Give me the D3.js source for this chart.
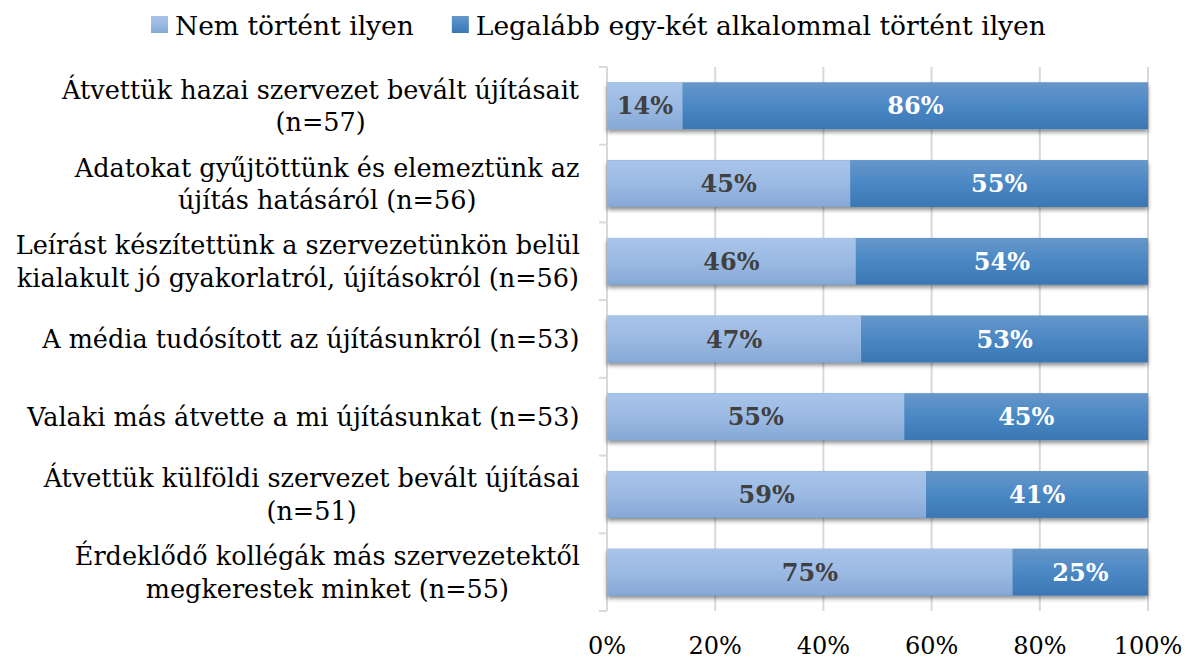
<!DOCTYPE html>
<html>
<head>
<meta charset="utf-8">
<script src="https://cdn.jsdelivr.net/npm/d3@7"></script>
<style>
  body { margin: 0; background: white; }
  svg text { font-family: "DejaVu Serif", "Liberation Serif", serif; }
</style>
</head>
<body>
<svg id="chart"></svg>
<script>
var width = 1193,
    height = 661;

// data
var categories = [
  ["Átvettük hazai szervezet bevált újításait", "(n=57)"],
  ["Adatokat gyűjtöttünk és elemeztünk az", "újítás hatásáról (n=56)"],
  ["Leírást készítettünk a szervezetünkön belül", "kialakult jó gyakorlatról, újításokról (n=56)"],
  ["A média tudósított az újításunkról (n=53)"],
  ["Valaki más átvette a mi újításunkat (n=53)"],
  ["Átvettük külföldi szervezet bevált újításai", "(n=51)"],
  ["Érdeklődő kollégák más szervezetektől", "megkerestek minket (n=55)"]
];
var seriesNames = ["Nem történt ilyen", "Legalább egy-két alkalommal történt ilyen"];
var notHappened = [14, 45, 46, 47, 55, 59, 75];
var happened = [86, 55, 54, 53, 45, 41, 25];
var xTicks = [0, 20, 40, 60, 80, 100];

var margin = {top: 67, left: 607, right: 45, bottom: 50};

var svg = d3.select('#chart').attr('width', width).attr('height', height);

var defs = svg.append('defs');
var gLight = defs.append('linearGradient').attr('id', 'gLight').attr('x1', 0).attr('y1', 0).attr('x2', 0).attr('y2', 1);
gLight.append('stop').attr('offset', '0%').attr('stop-color', '#a8c4e9');
gLight.append('stop').attr('offset', '50%').attr('stop-color', '#9bbae3');
gLight.append('stop').attr('offset', '100%').attr('stop-color', '#86a8d5');
var gDark = defs.append('linearGradient').attr('id', 'gDark').attr('x1', 0).attr('y1', 0).attr('x2', 0).attr('y2', 1);
gDark.append('stop').attr('offset', '0%').attr('stop-color', '#6797c9');
gDark.append('stop').attr('offset', '50%').attr('stop-color', '#4a88c5');
gDark.append('stop').attr('offset', '100%').attr('stop-color', '#3a77b3');
var shadow = defs.append('filter').attr('id', 'shadow')
  .attr('x', '-5%').attr('y', '-20%').attr('width', '110%').attr('height', '150%');
shadow.append('feDropShadow').attr('dx', 0).attr('dy', 3).attr('stdDeviation', 2)
  .attr('flood-color', '#000').attr('flood-opacity', 0.45);

var x = d3.scaleLinear().domain([0, 100]).range([margin.left, width - margin.right]);
var y = d3.scaleBand().domain(d3.range(categories.length))
  .range([margin.top, height - margin.bottom]).paddingInner(0.4).paddingOuter(0.2);

// gridlines
svg.append('g').selectAll('line').data(xTicks).enter().append('line')
  .attr('x1', function(d){ return x(d); })
  .attr('x2', function(d){ return x(d); })
  .attr('y1', margin.top)
  .attr('y2', height - margin.bottom)
  .attr('stroke', '#d9d9d9')
  .attr('stroke-width', 2);

// category axis line with ticks between bands
var axisG = svg.append('g');
axisG.append('line')
  .attr('x1', margin.left).attr('x2', margin.left)
  .attr('y1', margin.top).attr('y2', height - margin.bottom)
  .attr('stroke', '#d9d9d9').attr('stroke-width', 2);
var bounds = d3.range(categories.length + 1).map(function(i){
  return margin.top + i * y.step();
});
axisG.selectAll('.tk').data(bounds).enter().append('line')
  .attr('class', 'tk')
  .attr('x1', margin.left - 8).attr('x2', margin.left)
  .attr('y1', function(d){ return d; }).attr('y2', function(d){ return d; })
  .attr('stroke', '#d9d9d9').attr('stroke-width', 2);

// stacked bars
var rows = categories.map(function(c, i){
  return [
    {i: i, x0: 0, x1: notHappened[i], v: notHappened[i], s: 0},
    {i: i, x0: notHappened[i], x1: notHappened[i] + happened[i], v: happened[i], s: 1}
  ];
});
var segs = [].concat.apply([], rows);

var barG = svg.append('g');
barG.selectAll('.bg').data(rows).enter().append('rect')
  .attr('x', x(0))
  .attr('y', function(d, i){ return y(i); })
  .attr('width', x(100) - x(0))
  .attr('height', y.bandwidth())
  .attr('fill', '#4a88c5')
  .attr('filter', 'url(#shadow)');
barG.selectAll('.seg').data(segs).enter().append('rect')
  .attr('x', function(d){ return x(d.x0); })
  .attr('y', function(d){ return y(d.i); })
  .attr('width', function(d){ return x(d.x1) - x(d.x0); })
  .attr('height', y.bandwidth())
  .attr('fill', function(d){ return d.s === 0 ? 'url(#gLight)' : 'url(#gDark)'; });

barG.selectAll('.val').data(segs).enter().append('text')
  .attr('x', function(d){ return (x(d.x0) + x(d.x1)) / 2; })
  .attr('y', function(d){ return y(d.i) + y.bandwidth() / 2; })
  .attr('dy', '0.36em')
  .attr('text-anchor', 'middle')
  .attr('font-size', 24)
  .attr('font-weight', 'bold')
  .attr('fill', function(d){ return d.s === 0 ? '#404040' : '#ffffff'; })
  .text(function(d){ return d.v + '%'; });

// category labels
var labG = svg.append('g');
categories.forEach(function(lines, i){
  var cy = y(i) + y.bandwidth() / 2;
  var lh = 32.5;
  var t = labG.append('text')
    .attr('text-anchor', 'middle')
    .attr('font-size', 25.5)
    .attr('fill', '#000');
  lines.forEach(function(l, j){
    t.append('tspan')
      .attr('x', 0)
      .attr('y', cy + (j - (lines.length - 1) / 2) * lh)
      .attr('dy', '0.36em')
      .text(l);
  });
  // right-align the block, centre lines within it
  var w = t.node().getBBox().width;
  t.selectAll('tspan').attr('x', 580 - w / 2);
});

// x axis labels
svg.append('g').selectAll('text').data(xTicks).enter().append('text')
  .attr('x', function(d){ return x(d); })
  .attr('y', 645)
  .attr('dy', '0.36em')
  .attr('text-anchor', 'middle')
  .attr('font-size', 24)
  .attr('fill', '#000')
  .text(function(d){ return d + '%'; });

// legend
var legG = svg.append('g');
var lx = 151;
seriesNames.forEach(function(n, i){
  legG.append('rect')
    .attr('x', lx).attr('y', 16).attr('width', 17).attr('height', 17)
    .attr('fill', i === 0 ? 'url(#gLight)' : 'url(#gDark)');
  var t = legG.append('text')
    .attr('x', lx + 24).attr('y', 25).attr('dy', '0.36em')
    .attr('font-size', 26.5).attr('fill', '#000')
    .text(n);
  lx += 24 + t.node().getComputedTextLength() + 38;
});
</script>
</body>
</html>
